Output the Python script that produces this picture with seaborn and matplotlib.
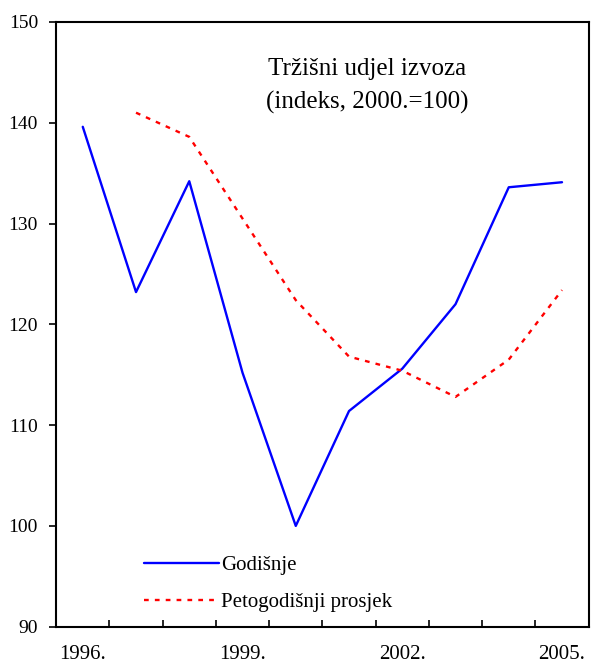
import matplotlib
matplotlib.use("Agg")
import matplotlib.pyplot as plt
import seaborn as sns
import pandas as pd
from matplotlib.ticker import FixedLocator, NullFormatter, FixedFormatter

years = [1996, 1997, 1998, 1999, 2000, 2001, 2002, 2003, 2004, 2005]
godisnje = [139.6, 123.2, 134.2, 115.2, 100.0, 111.4, 115.6, 122.0, 133.6, 134.1]
prosjek_years = [1997, 1998, 1999, 2000, 2001, 2002, 2003, 2004, 2005]
prosjek = [141.0, 138.6, 130.5, 122.4, 116.8, 115.4, 112.8, 116.5, 123.4]
label_years = [1996, 1999, 2002, 2005]
label_text = ["1996.", "1999.", "2002.", "2005."]
y_ticks = [90, 100, 110, 120, 130, 140, 150]

sns.set_theme(style="white")
plt.rcParams['font.family'] = ['Liberation Serif', 'DejaVu Serif']
plt.rcParams['text.color'] = 'black'
plt.rcParams['xtick.color'] = 'black'
plt.rcParams['ytick.color'] = 'black'

df1 = pd.DataFrame({"x": years, "y": godisnje})
df2 = pd.DataFrame({"x": prosjek_years, "y": prosjek})

fig, ax = plt.subplots(figsize=(5.91, 6.66), dpi=100)
fig.subplots_adjust(left=0.095, right=0.996, top=0.967, bottom=0.059)

sns.lineplot(data=df1, x="x", y="y", ax=ax, color="#0000ff", linewidth=1.7, label="Godišnje")
sns.lineplot(data=df2, x="x", y="y", ax=ax, color="#ff0000", linewidth=1.7,
             linestyle=(0, (2, 2.6)), label="Petogodišnji prosjek")

ax.set_xlim(1995.5, 2005.5)
ax.set_ylim(90, 150)
ax.set_xlabel("")
ax.set_ylabel("")

ax.xaxis.set_major_locator(FixedLocator([y + 0.5 for y in years[:-1]]))
ax.xaxis.set_major_formatter(NullFormatter())
ax.xaxis.set_minor_locator(FixedLocator(label_years))
ax.xaxis.set_minor_formatter(FixedFormatter(label_text))
ax.tick_params(axis="x", which="major", direction="in", length=5, width=1.2, color="black", bottom=True)
ax.tick_params(axis="x", which="minor", length=0, pad=13.5, labelsize=15, bottom=True, labelcolor="black")

ax.set_yticks(y_ticks)
ax.tick_params(axis="y", which="major", direction="out", length=5, width=1.2, color="black",
               left=True, pad=8, labelsize=14, labelcolor="black")

for s in ax.spines.values():
    s.set_visible(True)
    s.set_color("black")
    s.set_linewidth(1.5)

ax.text(0.584, 0.94, "Tržišni udjel izvoza\n(indeks, 2000.=100)", transform=ax.transAxes,
        ha="center", va="top", fontsize=18, linespacing=1.6, color="black")

leg = ax.legend(loc="lower left", bbox_to_anchor=(0.13, -0.007), frameon=False, fontsize=15,
                handlelength=3.6, handletextpad=0.1, labelspacing=0.85)
for t in leg.get_texts():
    t.set_color("black")

fig.savefig("out.png", dpi=100)
